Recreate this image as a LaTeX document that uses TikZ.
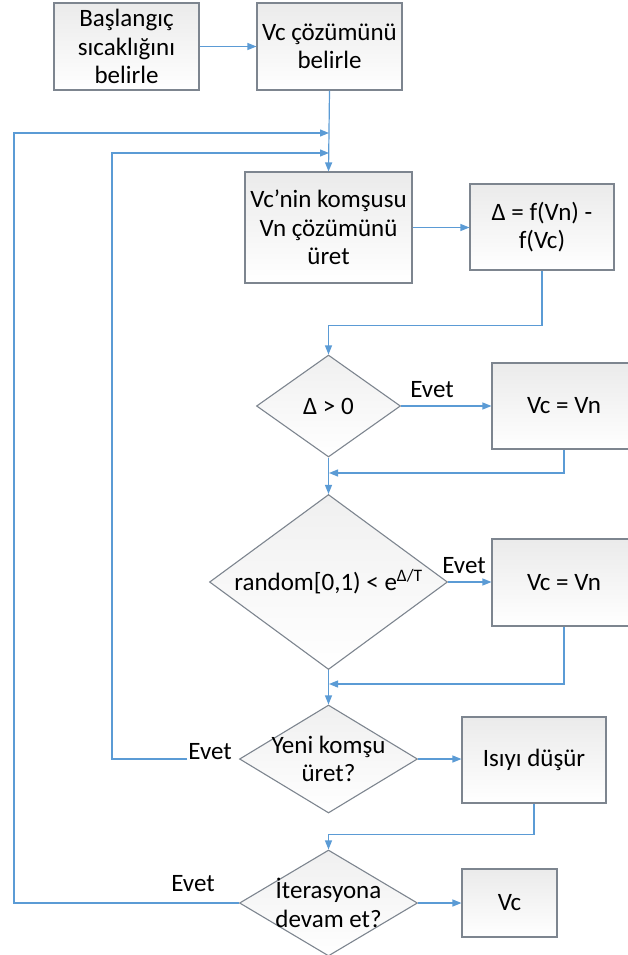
\documentclass[tikz,border=0pt]{standalone}
\usepackage{fontspec}
\setmainfont{Carlito}
\usetikzlibrary{arrows.meta,shapes.geometric}

\definecolor{linkblue}{RGB}{91,155,213}
\definecolor{framegray}{RGB}{125,133,143}

\begin{document}
\begin{tikzpicture}[x=1pt,y=-1pt,font=\fontsize{25pt}{28.5pt}\selectfont]

	\tikzstyle flow box=[draw=framegray, line width=1.1pt, top color=black!8, bottom color=white, align=center, inner sep=2pt];
	\tikzstyle decision=[diamond, draw=framegray, line width=1.1pt, top color=black!6, bottom color=white, inner sep=0pt];
	\tikzstyle flow line=[draw=linkblue, line width=1.2pt, -{Triangle[length=9pt,width=7pt]}];
	\tikzstyle yes label=[inner sep=1pt];

	\useasboundingbox (0,0) rectangle (627,955);

	\node[flow box, minimum width=145pt, minimum height=87pt] (start) at (126.5,46.5) {Başlangıç\\sıcaklığını\\belirle};
	\node[flow box, minimum width=145pt, minimum height=87pt] (init) at (329.5,46.5) {Vc çözümünü\\belirle};
	\node[flow box, minimum width=167pt, minimum height=111pt] (neigh) at (328.5,227.5) {Vc’nin komşusu\\Vn çözümünü\\üret};
	\node[flow box, minimum width=144pt, minimum height=86pt] (delta) at (542,227) {Δ = f(Vn) -\\f(Vc)};

	\node[decision, minimum width=144pt, minimum height=102pt, label={center:Δ > 0}] (d1) at (328.5,406) {};
	\node[flow box, minimum width=144pt, minimum height=86pt] (acc1) at (564,406) {Vc = Vn};

	\node[decision, minimum width=238pt, minimum height=175pt, label={center:random[0,1) < e\textsuperscript{Δ/T}}] (d2) at (328.5,582) {};
	\node[flow box, minimum width=144pt, minimum height=87pt] (acc2) at (564,582.5) {Vc = Vn};

	\node[decision, minimum width=178pt, minimum height=108pt, label={[align=center]center:Yeni komşu\\üret?}] (d3) at (328.5,759) {};
	\node[flow box, minimum width=144pt, minimum height=86pt] (cool) at (534,760) {Isıyı düşür};

	\node[decision, minimum width=178pt, minimum height=106pt, label={[align=center]center:İterasyona\\devam et?}] (d4) at (328.5,903) {};
	\node[flow box, minimum width=95pt, minimum height=68pt] (result) at (509.5,903) {Vc};

	% junctions on the main line
	\coordinate (j1) at (329,133);
	\coordinate (j2) at (329,153);
	\coordinate (j3) at (329,473);
	\coordinate (j4) at (329,684);
	\coordinate (back1) at (14,133);
	\coordinate (back2) at (112,153);

	\foreach \from/\to in {start/init,neigh/delta,d1/acc1,d2/acc2,d3/cool,d4/result}
		\draw[flow line] (\from.east) -- (\from.east -| \to.west);
	\foreach \from/\to in {init/neigh,d1/d2,d2/d3}
		\draw[flow line] (\from.south) -- (\to.north);

	\draw[flow line] (delta.south) -- ++(0,55) -| (d1.north);
	\draw[flow line] (acc1.south) |- (j3);
	\draw[flow line] (acc2.south) |- (j4);
	\draw[flow line] (cool.south) -- ++(0,31) -| (d4.north);

	\node[yes label, anchor=base] (yes1) at (432,397) {Evet};
	\node[yes label, anchor=base] (yes2) at (464,573) {Evet};
	\node[yes label, anchor=base east] (yes3) at (233,759) {Evet};
	\node[yes label, anchor=base] (yes4) at (193,891) {Evet};

	\draw[flow line] (yes3.base west) -| (back2) -- (j2);
	\draw[flow line] (d4.west) -| (back1) -- (j1);

\end{tikzpicture}
\end{document}
